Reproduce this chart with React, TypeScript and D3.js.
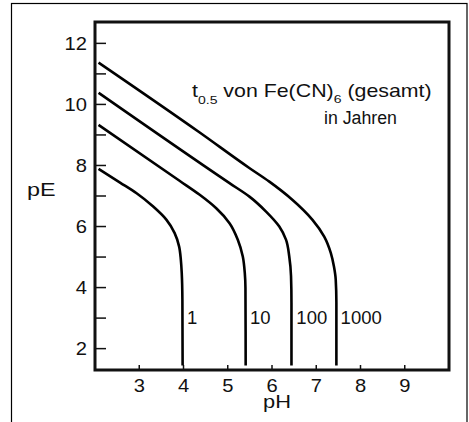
import React from "react";
import * as d3 from "d3";

// ---- data ----
const pHTicks = [3, 4, 5, 6, 7, 8, 9];
const pEMajorTicks = [2, 4, 6, 8, 10, 12];
const pEMinorTicks = [3, 5, 7, 9, 11];

// [pH, pE] points along each half-life contour
const curve1: [number, number][] = [
  [2.08, 7.89], [2.566, 7.44], [2.94, 7.09], [3.315, 6.655], [3.616, 6.22],
  [3.8, 5.785], [3.9, 5.35], [3.94, 4.91], [3.96, 4.48], [3.975, 3.6], [3.98, 1.45],
];
const curve10: [number, number][] = [
  [2.08, 9.33], [3.91, 7.5], [4.366, 7.04], [4.74, 6.6], [5.04, 6.11],
  [5.227, 5.57], [5.34, 5.02], [5.385, 4.48], [5.4, 3.99], [5.405, 1.45],
];
const curve100: [number, number][] = [
  [2.08, 10.38], [5.04, 7.42], [5.49, 6.98], [5.866, 6.49], [6.165, 6.0],
  [6.316, 5.57], [6.39, 5.02], [6.43, 4.37], [6.44, 3.5], [6.44, 1.45],
];
const curve1000: [number, number][] = [
  [2.08, 11.37], [4.366, 9.08], [5.495, 7.91], [5.94, 7.47], [6.465, 6.87],
  [6.915, 6.22], [7.18, 5.67], [7.33, 5.13], [7.4, 4.69], [7.44, 4.26], [7.455, 3.5], [7.455, 1.45],
];
const curves = [curve1, curve10, curve100, curve1000];
const curveLabels = ["1", "10", "100", "1000"];
const curveLabelPH = [4.08, 5.5, 6.55, 7.55];
const curveLabelPE = 3.0;

const W = 469;
const H = 422;
const FONT = "'Liberation Sans', Arial, Helvetica, sans-serif";

export default function App() {
  const x = d3.scaleLinear().domain([2, 10]).range([95, 449]);
  const y = d3.scaleLinear().domain([1.3, 12.7]).range([370, 22]);
  const line = d3
    .line<[number, number]>()
    .x((d) => x(d[0]))
    .y((d) => y(d[1]))
    .curve(d3.curveMonotoneY);

  const txt = (
    key: string,
    tx: number,
    ty: number,
    s: string,
    anchor: string,
    size: number,
    sx: number
  ) => (
    <g key={key} transform={`translate(${tx},${ty}) scale(${sx},1)`}>
      <text x={0} y={0} fontSize={size} textAnchor={anchor} fill="#111" fontFamily={FONT}>
        {s}
      </text>
    </g>
  );

  return (
    <svg
      width={W}
      height={H}
      style={{ position: "absolute", left: 0, top: 0, background: "#fff" }}
    >
      <rect x={0} y={0} width={W} height={H} fill="#fff" />
      {/* outer frame */}
      <rect x={11.5} y={3.5} width={455.5} height={440} fill="none" stroke="#000" strokeWidth={1.2} />

      {/* y ticks */}
      {pEMajorTicks.concat(pEMinorTicks).map((t) => (
        <line key={"yt" + t} x1={x(2)} x2={x(2) + 11} y1={y(t)} y2={y(t)} stroke="#111" strokeWidth={1.5} />
      ))}
      {/* x ticks */}
      {pHTicks.map((t) => (
        <line key={"xt" + t} x1={x(t)} x2={x(t)} y1={y(1.3)} y2={y(1.3) - 5} stroke="#111" strokeWidth={1.5} />
      ))}

      {/* plot frame */}
      <rect x={x(2)} y={y(12.7)} width={x(10) - x(2)} height={y(1.3) - y(12.7)} fill="none" stroke="#111" strokeWidth={3} />

      {/* curves */}
      {curves.map((c, i) => (
        <path key={"c" + i} d={line(c) || ""} fill="none" stroke="#000" strokeWidth={2.6} strokeLinejoin="round" />
      ))}

      {/* tick labels */}
      {pEMajorTicks.map((t) => txt("yl" + t, 87, y(t) + 6.5, String(t), "end", 18, 1.12))}
      {pHTicks.map((t) => txt("xl" + t, x(t), 391.5, String(t), "middle", 18, 1.12))}

      {/* curve labels */}
      {curveLabels.map((l, i) => txt("cl" + i, x(curveLabelPH[i]), y(curveLabelPE) + 6, l, "start", 18.5, 1.0))}

      {/* axis titles */}
      {txt("pE", 27, 196, "pE", "start", 18, 1.3)}
      {txt("pH", 263, 407.5, "pH", "start", 18.5, 1.18)}

      {/* annotation */}
      <g transform="translate(192,97) scale(1.22,1)">
        <text x={0} y={0} fontSize={17.5} fill="#111" fontFamily={FONT}>
          t
          <tspan dy={7} fontSize={11.5}>0.5</tspan>
          <tspan dy={-7}> von Fe(CN)</tspan>
          <tspan dy={6} fontSize={11.5}>6</tspan>
          <tspan dy={-6}> (gesamt)</tspan>
        </text>
      </g>
      <text
        x={324}
        y={123.5}
        fontSize={18}
        fill="#111"
        fontFamily={FONT}
        textLength={73}
        lengthAdjust="spacingAndGlyphs"
      >
        in Jahren
      </text>
    </svg>
  );
}
